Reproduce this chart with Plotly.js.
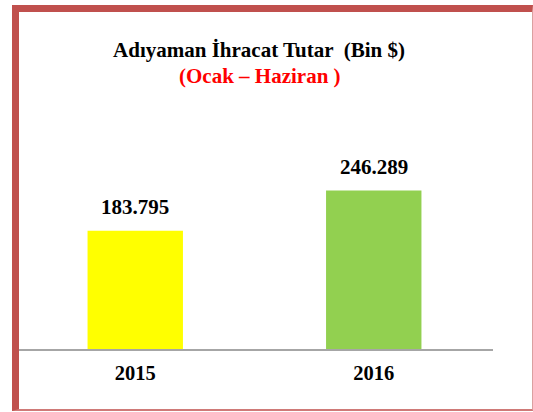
<!DOCTYPE html>
<html>
<head>
<meta charset="utf-8">
<script src="https://cdn.plot.ly/plotly-3.0.1.min.js"></script>
<style>
  html, body { margin: 0; padding: 0; background: #fff; }
  #chart { position: absolute; left: 0; top: 0; width: 533px; height: 412px; }
  #frame { position: absolute; left: 12px; top: 5px; width: 521px; height: 406px; box-sizing: border-box;
           border-left: 7px solid #c0504d; border-top: 7px solid #c0504d;
           border-right: 1px solid #dba0a0; border-bottom: 2px solid #cf7a78; pointer-events: none; }
</style>
</head>
<body>
<div id="chart"></div>
<div id="frame"></div>
<script>
const years = ['2015', '2016'];
const values = [183795, 246289];
const barColors = ['#ffff00', '#92d050'];
const titleMain = 'Adıyaman İhracat Tutar &nbsp;(Bin $)';
const titleSub = '(Ocak – Haziran )';

const serif = '"Liberation Serif", "Times New Roman", serif';

const trace = {
  type: 'bar',
  x: years,
  y: values,
  width: 0.4,
  marker: { color: barColors },
  hoverinfo: 'none'
};

const annotations = years.map((yr, i) => ({
  x: i, y: values[i], xref: 'x', yref: 'y',
  text: '<b>' + values[i].toLocaleString('de-DE') + '</b>',
  showarrow: false, yanchor: 'bottom', yshift: 10,
  font: { family: serif, size: 21, color: '#000' }
}));

annotations.push({
  x: 0.5105, y: 1.415, xref: 'paper', yref: 'paper',
  xanchor: 'center', yanchor: 'middle',
  text: '<b>' + titleSub + '</b>', showarrow: false,
  font: { family: serif, size: 21, color: '#ff0000' }
});

const layout = {
  width: 533, height: 412,
  margin: { l: 16, r: 40, t: 156, b: 63 },
  paper_bgcolor: '#fff', plot_bgcolor: '#fff',
  showlegend: false,
  title: {
    text: '<b>' + titleMain + '</b>',
    font: { family: serif, size: 21, color: '#000' },
    x: 0.486, xanchor: 'center', xref: 'container',
    y: 0.879, yanchor: 'middle', yref: 'container'
  },
  xaxis: {
    type: 'category',
    range: [-0.5, 1.5],
    showline: true, linecolor: '#a6a6a6', linewidth: 2,
    showgrid: false, zeroline: false, ticks: '',
    ticklabelstandoff: 4,
    tickfont: { family: serif, size: 20.5, color: '#000' },
    tickprefix: '<b>', ticksuffix: '</b>'
  },
  yaxis: {
    range: [0, 300000], visible: false, showgrid: false, zeroline: false
  },
  annotations: annotations
};

Plotly.newPlot('chart', [trace], layout, { staticPlot: true, displayModeBar: false });
</script>
</body>
</html>
